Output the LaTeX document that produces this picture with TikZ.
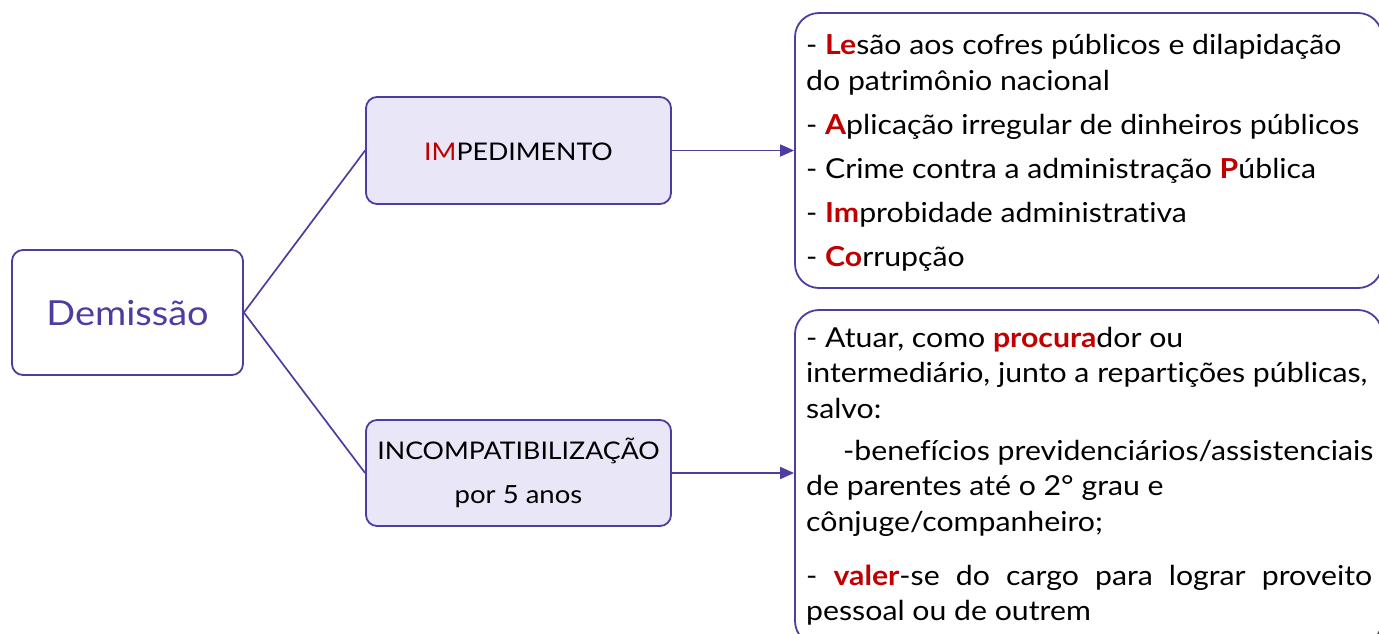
\documentclass[tikz,border=0pt]{standalone}
\usepackage{fontspec}
\setmainfont{Lato}[FakeStretch=1.1,Ligatures=NoCommon]
\usetikzlibrary{arrows.meta}
\definecolor{pur}{RGB}{80,60,160}
\definecolor{lav}{RGB}{232,230,247}
\definecolor{rd}{RGB}{192,0,0}
\newcommand{\R}[1]{\textcolor{rd}{#1}}
\newcommand{\RB}[1]{\textcolor{rd}{\bfseries #1}}
\begin{document}
\begin{tikzpicture}[x=1pt,y=-1pt,
  box/.style={draw=pur,line width=1.8pt,rounded corners=11pt,inner sep=0pt},
  bigbox/.style={draw=pur,line width=1.8pt,rounded corners=24pt,fill=white,inner sep=0pt},
  conn/.style={draw=pur,line width=1.7pt},
  arr/.style={conn,-{Triangle[length=14pt,width=12pt]}},
  ln/.style={anchor=base west,inner sep=0pt,font=\fontsize{27.5}{32}\selectfont},
  mid/.style={inner sep=0pt,font=\fontsize{24.3}{28}\selectfont}]
\useasboundingbox (0,0) rectangle (1379,633);
\node[box,fill=white,minimum width=231pt,minimum height=125pt] (dem) at (127.5,312.5) {};
\node[inner sep=0pt,text=pur,font=\fontsize{34.5}{40}\selectfont] (demt) at (127.5,313) {Demissão};
\node[box,fill=lav,minimum width=305pt,minimum height=107pt] (imp) at (518.5,150.5) {};
\node[mid] (impt) at (518.5,152) {\R{IM}PEDIMENTO};
\node[box,fill=lav,minimum width=305pt,minimum height=106pt] (inc) at (518.5,473) {};
\node[mid] (inct) at (518.5,451) {INCOMPATIBILIZAÇÃO};
\node[mid,font=\fontsize{25}{28}\selectfont] (incs) at (518.5,497) {por 5 anos};
\node[bigbox,minimum width=587pt,minimum height=275pt] (top) at (1088.5,150.5) {};
\node[bigbox,minimum width=587pt,minimum height=335pt] (bot) at (1088.5,477.5) {};
\draw[conn] (dem.east) -- (imp.west);
\draw[conn] (dem.east) -- (inc.west);
\draw[arr] (imp.east) -- (imp.east -| top.west);
\draw[arr] (inc.east) -- (inc.east -| bot.west);
\node[ln] (t1) at (806,54) {- \RB{Le}são aos cofres públicos e dilapidação};
\node[ln] (t2) at (806,90) {do patrimônio nacional};
\node[ln] (t3) at (806,134) {- \RB{A}plicação irregular de dinheiros públicos};
\node[ln] (t4) at (806,178) {- Crime contra a administração \RB{P}ública};
\node[ln] (t5) at (806,222) {- \RB{Im}probidade administrativa};
\node[ln] (t6) at (806,266) {- \RB{Co}rrupção};
\node[ln] (b1) at (806,347) {- Atuar, como \RB{procura}dor ou};
\node[ln] (b2) at (806,382) {intermediário, junto a repartições públicas,};
\node[ln] (b3) at (806,418) {salvo:};
\node[ln] (b4) at (843,460) {-benefícios previdenciários/assistenciais};
\node[ln] (b5) at (806,495) {de parentes até o 2° grau e};
\node[ln] (b6) at (806,531) {cônjuge/companheiro;};
\node[ln] (b7) at (806,585) {\makebox[566pt][s]{- \RB{valer}-se do cargo para lograr proveito}};
\node[ln] (b8) at (806,620) {pessoal ou de outrem};
\end{tikzpicture}
\end{document}
